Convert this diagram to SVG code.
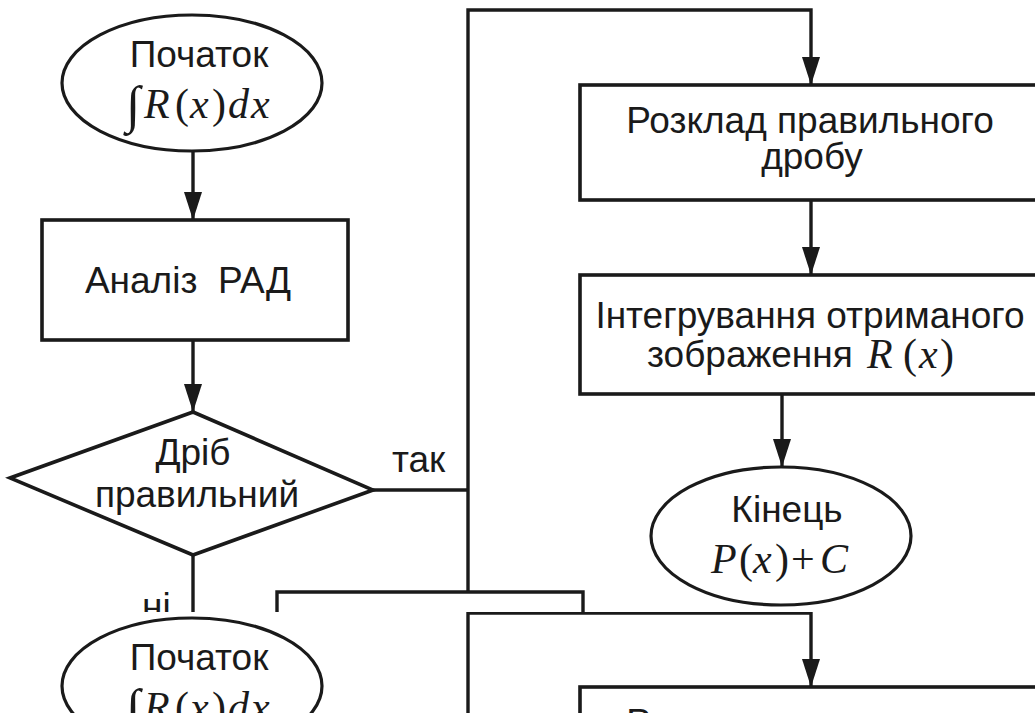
<svg xmlns="http://www.w3.org/2000/svg" width="1035" height="713" viewBox="0 0 1035 713">
<style>
.shape{fill:#fff;stroke:#1a1a1a;stroke-width:3.6}
.ell{fill:#fff;stroke:#1a1a1a;stroke-width:3.2}
.ln{fill:none;stroke:#1a1a1a;stroke-width:3.4}
.t{font-family:"Liberation Sans",Arial,sans-serif;font-size:37px;fill:#1a1a1a}
.c{text-anchor:middle}
.m{font-family:"Liberation Serif","Times New Roman",serif;font-size:42px;font-style:italic;fill:#1a1a1a}
.u{font-style:normal}
</style>
<defs>
<marker id="arr" markerUnits="userSpaceOnUse" markerWidth="28" markerHeight="18" viewBox="0 0 28 18" refX="28" refY="9" orient="auto">
<path d="M0,0 L28,9 L0,18 Z" fill="#1a1a1a"/>
</marker>
<clipPath id="top"><rect x="0" y="0" width="1035" height="612"/></clipPath>
<clipPath id="bot"><rect x="0" y="612" width="1035" height="101"/></clipPath>
</defs>
<rect width="1035" height="713" fill="#fff"/>

<g id="upper" clip-path="url(#top)">
<g id="connectors">
<path class="ln" d="M193,152 V220" marker-end="url(#arr)"/>
<path class="ln" d="M193,340 V412" marker-end="url(#arr)"/>
<path class="ln" d="M373,490 H468"/>
<path class="ln" d="M468,592 V10 H811 V85" marker-end="url(#arr)"/>
<path class="ln" d="M811,200 V275" marker-end="url(#arr)"/>
<path class="ln" d="M782,394 V467" marker-end="url(#arr)"/>
<path class="ln" d="M193,555 V620"/>
<path class="ln" d="M277,620 V592 H583 V613"/>
<text class="t" x="392" y="472">так</text>
<text class="t" x="142" y="619">ні</text>
</g>
<g id="start">
<ellipse class="ell" cx="192" cy="83" rx="130" ry="68"/>
<text class="t c" x="199" y="67">Початок</text>
<text class="m"><tspan class="u" x="126" y="122" font-size="52">∫</tspan><tspan x="144" y="118">R</tspan><tspan class="u" x="175">(</tspan><tspan x="190">x</tspan><tspan class="u" x="212">)</tspan><tspan x="228">d</tspan><tspan x="251">x</tspan></text>
</g>
<g id="analysis">
<rect class="shape" x="42" y="220" width="306" height="120"/>
<text class="t c" x="188" y="293" xml:space="preserve">Аналіз  РАД</text>
</g>
<g id="decision">
<polygon class="shape" points="193,412 373,490 193,555 10,478"/>
<text class="t c" x="193" y="465">Дріб</text>
<text class="t c" x="197" y="507">правильний</text>
</g>
<g id="decompose">
<rect class="shape" x="580" y="85" width="470" height="115"/>
<text class="t c" x="810" y="133">Розклад правильного</text>
<text class="t c" x="812" y="169">дробу</text>
</g>
<g id="integrate">
<rect class="shape" x="580" y="275" width="470" height="119"/>
<text class="t c" x="810" y="328">Інтегрування отриманого</text>
<text class="t" x="647" y="367">зображення</text>
<text class="m" y="368"><tspan x="867">R</tspan><tspan class="u" x="903">(</tspan><tspan x="919">x</tspan><tspan class="u" x="940">)</tspan></text>
</g>
<g id="end">
<ellipse class="ell" cx="781" cy="536" rx="130" ry="69"/>
<text class="t c" x="787" y="522">Кінець</text>
<text class="m" y="573"><tspan x="711">P</tspan><tspan class="u" x="739">(</tspan><tspan x="753">x</tspan><tspan class="u" x="775">)</tspan><tspan class="u" x="791">+</tspan><tspan x="820">C</tspan></text>
</g>
</g>

<g id="lower" clip-path="url(#bot)">
<rect x="0" y="612" width="1035" height="101" fill="#fff"/>
<g id="connectors-lower">
<path class="ln" d="M468,720 V613 H811 V687" marker-end="url(#arr)"/>
</g>
<g id="start-2">
<ellipse class="ell" cx="192" cy="686" rx="130" ry="68"/>
<text class="t c" x="199" y="670">Початок</text>
<text class="m"><tspan class="u" x="126" y="725" font-size="52">∫</tspan><tspan x="144" y="721">R</tspan><tspan class="u" x="175">(</tspan><tspan x="190">x</tspan><tspan class="u" x="212">)</tspan><tspan x="228">d</tspan><tspan x="251">x</tspan></text>
</g>
<g id="decompose-2">
<rect class="shape" x="580" y="687" width="470" height="115"/>
<text class="t c" x="810" y="735">Розклад правильного</text>
</g>
</g>
</svg>
